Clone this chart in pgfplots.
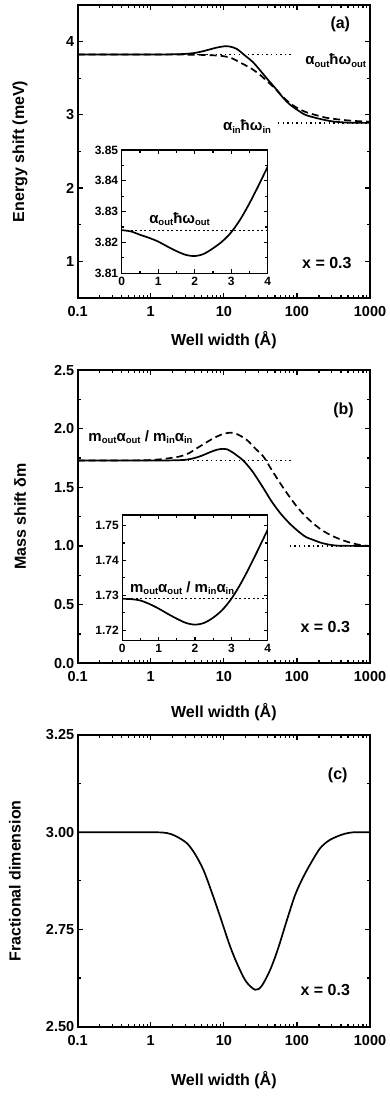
\documentclass[border=0pt]{standalone}
\usepackage{fontspec}
\setmainfont{Liberation Sans}
\usepackage{pgfplots}
\pgfplotsset{compat=1.18}
\newcommand\sub[1]{\raisebox{-0.3ex}{\fontsize{9.5}{9.5}\selectfont #1}}
\newcommand\fs[1]{\fontsize{#1}{#1}\selectfont\bfseries}
\pgfplotsset{
  mybase/.style={
    scale only axis,
    anchor=north west,
    axis line style={line width=1.7pt},
    every tick/.style={black, line width=1.2pt},
    major tick length=5pt, minor tick length=3pt,
    tick align=inside,
    /pgf/number format/assume math mode=true,
    /pgf/number format/1000 sep={},
    tick label style={font=\fs{14.5}},
    label style={font=\fs{16}},
    axis background/.style={fill=white},
  },
  mymain/.style={mybase, xmin=0.1, xmax=1000, width=292.3pt,
    log ticks with fixed point,
    xticklabel style={yshift=-5pt},
    xlabel={Well width (Å)},
  },
  myinset/.style={mybase, xmin=0, xmax=4, width=146pt, xtick={0,1,2,3,4}, minor x tick num=1,
    major tick length=4pt, minor tick length=2.5pt,
    tick label style={font=\fs{12}},
    axis line style={line width=1.4pt},
    yticklabel style={/pgf/number format/.cd, fixed, fixed zerofill, precision=2},
  },
  sol/.style={black, line width=1.7pt, smooth, tension=0.5},
  dsh/.style={black, line width=1.7pt, smooth, tension=0.5, dash pattern=on 7pt off 4pt},
  dtt/.style={black, line width=1.4pt, dash pattern=on 1.4pt off 3.2pt},
}
\begin{document}
\begin{tikzpicture}
\path[use as bounding box] (0pt,0pt) rectangle (389pt,-1096pt);

% ---------------- panel (a)
\begin{semilogxaxis}[mymain, at={(77.7pt,-5pt)}, height=292.7pt,
  ymin=0.5, ymax=4.5, ytick={1,2,3,4}, minor ytick={0.5,1.5,2.5,3.5,4.5},
  ylabel={Energy shift (meV)},
  xlabel style={at={(axis description cs:0.5,-0.1445)}, anchor=center},
  ylabel style={at={(axis description cs:-0.197,0.5)}, anchor=center}]
\addplot[dtt] coordinates {(0.1,3.824) (90,3.824)};
\addplot[dtt] coordinates {(55,2.889) (1000,2.889)};
\addplot[dsh] coordinates {(0.1,3.824) (2,3.824) (3,3.822) (5,3.818) (8,3.81) (10,3.80) (13,3.77) (17,3.71) (23,3.64) (30,3.56) (40,3.45) (50,3.36) (65,3.24) (80,3.16) (100,3.095) (130,3.04) (190,2.99) (250,2.96) (316,2.945) (400,2.932) (537,2.92) (700,2.912) (1000,2.905)};
\addplot[sol] coordinates {(0.1,3.824) (1,3.824) (2,3.826) (3,3.832) (4,3.845) (5,3.865) (6,3.885) (8,3.918) (10,3.935) (12,3.933) (15,3.90) (20,3.80) (25,3.72) (30,3.63) (40,3.48) (50,3.37) (65,3.23) (80,3.14) (100,3.07) (130,3.00) (180,2.958) (250,2.925) (320,2.907) (450,2.895) (600,2.89) (1000,2.889)};
\node[font=\fs{16}] at (axis cs:392,4.24) {(a)};
\node[font=\fs{16}] at (axis cs:257,0.978) {x = 0.3};
\node[font=\fs{15}, anchor=west, inner sep=0pt] at (axis cs:130,3.74) {α\sub{out}ħω\sub{out}};
\node[font=\fs{15}, anchor=west, inner sep=0pt] at (axis cs:9.69,2.84) {α\sub{in}ħω\sub{in}};
\end{semilogxaxis}

\begin{axis}[myinset, at={(121.7pt,-150pt)}, height=123.3pt,
  ymin=3.81, ymax=3.85, ytick={3.81,3.82,3.83,3.84,3.85}, minor y tick num=1]
\addplot[black, line width=1.2pt, dash pattern=on 2pt off 2.5pt] coordinates {(0,3.824) (4,3.824)};
\addplot[sol] coordinates {(0,3.824) (0.25,3.8236) (0.5,3.8225) (0.75,3.8215) (1,3.8203) (1.25,3.8187) (1.5,3.8172) (1.75,3.8160) (2,3.8156) (2.25,3.8163) (2.5,3.8181) (2.75,3.8203) (3,3.8233) (3.25,3.8275) (3.5,3.8327) (3.75,3.8385) (4,3.8446)};
\node[font=\fs{15}, anchor=west, inner sep=0pt] at (axis cs:0.75,3.8275) {α\sub{out}ħω\sub{out}};
\end{axis}

% ---------------- panel (b)
\begin{semilogxaxis}[mymain, at={(77.7pt,-370pt)}, height=293.3pt,
  ymin=0, ymax=2.5, ytick={0,0.5,1,1.5,2,2.5}, minor y tick num=1,
  yticklabel style={/pgf/number format/.cd, fixed, fixed zerofill, precision=1},
  ylabel={Mass shift δm},
  xlabel style={at={(axis description cs:0.5,-0.165)}, anchor=center},
  ylabel style={at={(axis description cs:-0.197,0.5)}, anchor=center}]
\addplot[dtt] coordinates {(0.1,1.729) (90,1.729)};
\addplot[dtt] coordinates {(80,1.0) (1000,1.0)};
\addplot[dsh] coordinates {(0.1,1.729) (0.7,1.730) (1,1.733) (1.5,1.742) (2.5,1.763) (3.3,1.79) (4.27,1.833) (5.5,1.875) (7.2,1.918) (9.5,1.952) (12.2,1.966) (15,1.955) (20.6,1.904) (27,1.83) (34.9,1.761) (45,1.65) (59,1.535) (77,1.43) (100,1.335) (130,1.255) (169,1.19) (220,1.135) (286,1.094) (380,1.06) (484,1.037) (650,1.015) (815,1.005) (1000,1.0)};
\addplot[sol] coordinates {(0.1,1.729) (1,1.729) (2,1.730) (3,1.735) (4,1.75) (5,1.77) (6.5,1.80) (8,1.82) (9.5,1.828) (11,1.825) (13,1.80) (16,1.76) (19,1.72) (25,1.63) (35,1.49) (45,1.38) (60,1.275) (80,1.19) (100,1.135) (130,1.08) (170,1.05) (220,1.025) (300,1.008) (400,1.002) (1000,1.0)};
\node[font=\fs{16}] at (axis cs:434.7,2.159) {(b)};
\node[font=\fs{16}] at (axis cs:244,0.312) {x = 0.3};
\node[font=\fs{15}, anchor=west, inner sep=0pt] at (axis cs:0.1396,1.93) {m\sub{out}α\sub{out} / m\sub{in}α\sub{in}};
\end{semilogxaxis}

\begin{axis}[myinset, at={(122.3pt,-515pt)}, width=145.4pt, height=125.7pt,
  ymin=1.717, ymax=1.753, ytick={1.72,1.73,1.74,1.75}, minor ytick={1.725,1.735,1.745}]
\addplot[black, line width=1.2pt, dash pattern=on 2pt off 2.5pt] coordinates {(0,1.729) (4,1.729)};
\addplot[sol] coordinates {(0,1.729) (0.25,1.7289) (0.5,1.7285) (0.75,1.7275) (1,1.7262) (1.25,1.7247) (1.5,1.7233) (1.75,1.7221) (2,1.7216) (2.25,1.7221) (2.5,1.7236) (2.75,1.7258) (3,1.729) (3.25,1.7332) (3.5,1.7381) (3.75,1.7434) (4,1.7488)};
\node[font=\fs{15}, anchor=west, inner sep=0pt] at (axis cs:0.21,1.732) {m\sub{out}α\sub{out} / m\sub{in}α\sub{in}};
\end{axis}

% ---------------- panel (c)
\begin{semilogxaxis}[mymain, at={(77.7pt,-735pt)}, height=291.7pt,
  ymin=2.5, ymax=3.25, ytick={2.5,2.75,3,3.25}, minor y tick num=1,
  yticklabel style={/pgf/number format/.cd, fixed, fixed zerofill, precision=2},
  ylabel={Fractional dimension},
  xlabel style={at={(axis description cs:0.5,-0.1828)}, anchor=center},
  ylabel style={at={(axis description cs:-0.2145,0.5)}, anchor=center}]
\addplot[sol] coordinates {(0.1,3.0) (1,3.0) (1.66,2.998) (2.2,2.99) (3.11,2.972) (4,2.945) (5.26,2.903) (7,2.84) (8.9,2.783) (12,2.71) (15.1,2.663) (20,2.617) (26.8,2.595) (33,2.605) (43,2.646) (55,2.70) (72.9,2.774) (95,2.84) (123,2.886) (160,2.925) (208,2.959) (270,2.978) (353,2.989) (450,2.996) (600,3.0) (1000,3.0)};
\node[font=\fs{16}] at (axis cs:362,3.147) {(c)};
\node[font=\fs{16}] at (axis cs:244,2.594) {x = 0.3};
\end{semilogxaxis}
\end{tikzpicture}
\end{document}
